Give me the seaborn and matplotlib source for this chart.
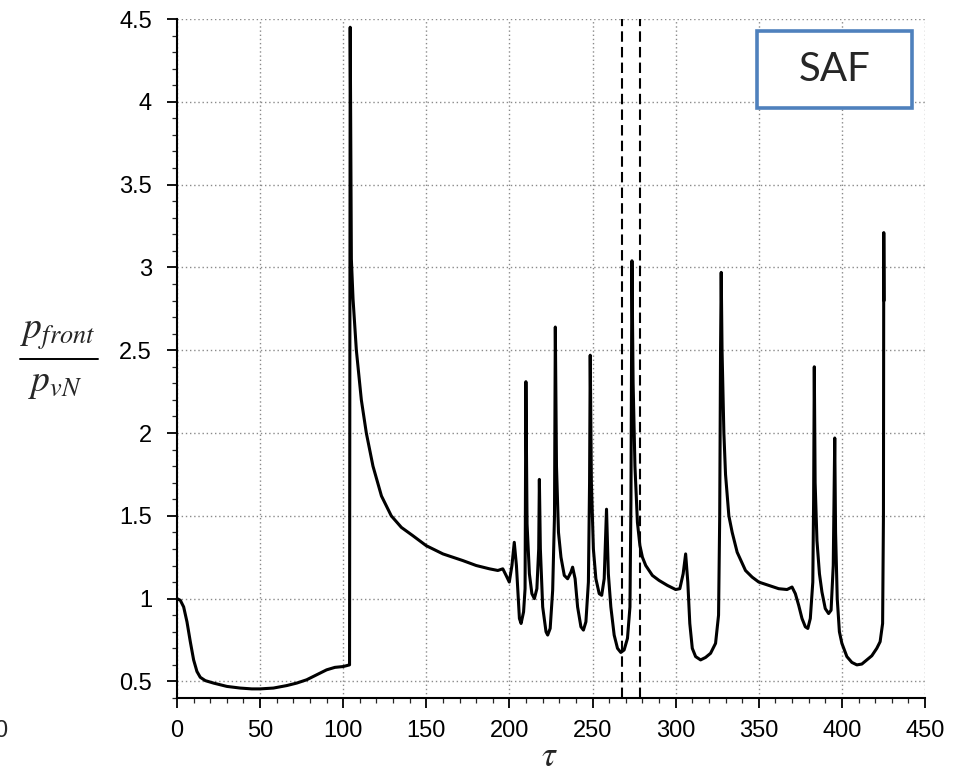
import matplotlib
matplotlib.use("Agg")
import matplotlib.pyplot as plt
from matplotlib.patches import Rectangle
from matplotlib.lines import Line2D
from matplotlib.ticker import MultipleLocator
import seaborn as sns
import pandas as pd

# ---------------- data ----------------
tau = [0, 2, 4, 6, 8, 10, 12, 14, 17, 22, 30, 38, 45, 50, 58, 66, 72, 78, 84, 90, 95, 100, 103.8,
       104.2, 104.9, 105.9, 107.9, 110.9, 113.9, 117.9, 123, 128.9, 135, 141.9, 149.9, 160, 171.9,
       180, 188, 193, 196, 198, 199.9, 201.5, 202.9, 204.2, 206, 207, 208.5, 209.4, 209.9, 210.6,
       212, 213.5, 215, 216.5, 217.6, 218, 218.6, 220, 222, 223, 224.5, 226, 227.1, 227.6, 228.3,
       229.5, 231, 233, 235, 237, 238, 239.5, 241, 243, 244.5, 246, 247.5, 248.2, 248.6, 249.3,
       250.5, 252, 254, 255.5, 257, 258.4, 259.5, 261, 263, 265, 267, 269, 271, 272.5, 273.1,
       273.7, 274.4, 275.5, 277, 278.5, 280, 282, 286, 290, 295, 300, 302.5, 304.5, 306, 307.3,
       308.5, 310, 312, 315, 318, 321, 324, 325.8, 326.5, 327.0, 327.4, 327.9, 329, 330, 332, 334,
       337, 342, 346, 350, 356, 362, 367, 370, 372, 374, 376, 378, 379.5, 381, 382.5, 383.0,
       383.4, 383.9, 385, 386.5, 388, 390, 392, 393.5, 394.8, 395.3, 395.7, 396.2, 397.2, 398.5,
       400, 403, 406, 409, 412, 415, 418, 421, 423, 424.5, 425.0, 425.2, 425.4]
p_ratio = [1.00, 0.99, 0.95, 0.86, 0.74, 0.63, 0.56, 0.525, 0.505, 0.49, 0.47, 0.46, 0.455, 0.455,
           0.46, 0.475, 0.49, 0.51, 0.54, 0.57, 0.585, 0.59, 0.60,
           4.45, 3.05, 2.81, 2.5, 2.2, 2.0, 1.8, 1.62, 1.5, 1.43, 1.38, 1.32, 1.27, 1.23,
           1.20, 1.18, 1.17, 1.18, 1.14, 1.10, 1.2, 1.34, 1.2, 0.88, 0.85, 0.92, 1.06, 2.31,
           1.45, 1.15, 1.03, 1.00, 1.06, 1.3, 1.72, 1.3, 0.95, 0.80, 0.78, 0.82, 1.05, 1.5, 2.64,
           1.8, 1.4, 1.25, 1.14, 1.12, 1.16, 1.19, 1.12, 0.95, 0.83, 0.81, 0.86, 1.1, 1.7, 2.47,
           1.7, 1.3, 1.12, 1.03, 1.02, 1.12, 1.54, 1.15, 0.95, 0.78, 0.70, 0.675, 0.69, 0.76, 0.95,
           1.6, 3.04, 2.3, 1.8, 1.46, 1.32, 1.25, 1.2, 1.14, 1.11, 1.08, 1.055, 1.06, 1.15, 1.27,
           1.1, 0.85, 0.70, 0.65, 0.63, 0.645, 0.67, 0.73, 0.9, 1.5, 2.5, 2.97, 2.5, 2.0, 1.75, 1.5,
           1.4, 1.28, 1.17, 1.13, 1.10, 1.08, 1.06, 1.055, 1.07, 1.03, 0.96, 0.88, 0.83, 0.82, 0.88,
           1.1, 1.6, 2.40, 1.7, 1.35, 1.15, 1.04, 0.94, 0.91, 0.93, 1.2, 1.6, 1.97, 1.4, 1.0, 0.8,
           0.73, 0.65, 0.615, 0.60, 0.605, 0.63, 0.655, 0.70, 0.74, 0.85, 1.5, 3.21, 2.8]
marker_tau = [268.0, 278.6]
x_ticks = [0, 50, 100, 150, 200, 250, 300, 350, 400, 450]
y_ticks = [0.5, 1, 1.5, 2, 2.5, 3, 3.5, 4, 4.5]
y_tick_labels = ["0.5", "1", "1.5", "2", "2.5", "3", "3.5", "4", "4.5"]
box_label = "SAF"

# ---------------- style ----------------
sns.set_style("ticks")
plt.rcParams["font.family"] = ["Liberation Sans", "DejaVu Sans"]
plt.rcParams["mathtext.fontset"] = "stix"

fig = plt.figure(figsize=(9.58, 7.74), dpi=100)
ax = fig.add_axes([177 / 958, 76 / 774, (925 - 177) / 958, (698 - 19) / 774])

df = pd.DataFrame({"tau": tau, "p": p_ratio})
sns.lineplot(data=df, x="tau", y="p", ax=ax, color="black", lw=2.2,
             estimator=None, sort=False, legend=False)

for t in marker_tau:
    ax.axvline(t, color="black", lw=1.5, ls=(0, (5, 2.5)), zorder=3)

ax.set_xlim(0, 450)
ax.set_ylim(0.4, 4.5)
ax.set_xticks(x_ticks)
ax.set_yticks(y_ticks)
ax.set_yticklabels(y_tick_labels)
ax.xaxis.set_minor_locator(MultipleLocator(10))
ax.yaxis.set_minor_locator(MultipleLocator(0.1))
ax.tick_params(axis="both", which="major", direction="out", length=7, width=1.3,
               labelsize=17, colors="black")
ax.tick_params(axis="both", which="minor", direction="out", length=3.5, width=0.9)
ax.tick_params(axis="y", which="major", pad=11)
ax.tick_params(axis="x", which="major", pad=9)

ax.grid(True, which="major", color="#8a8a8a", lw=1.0, ls=(0, (1, 2)))
ax.set_axisbelow(True)
sns.despine(ax=ax, top=True, right=True)
for s in ("left", "bottom"):
    ax.spines[s].set_linewidth(1.5)
    ax.spines[s].set_color("black")
ax.set_xlabel("")
ax.set_ylabel("")

# tau label
fig.text(549 / 958, 1 - 756 / 774, r"$\tau$", fontsize=25, ha="center", va="center")

# y label as a fraction
fig.text(58 / 958, 1 - 334 / 774, r"$p_{front}$", fontsize=27, ha="center", va="center")
fig.text(55 / 958, 1 - 383 / 774, r"$p_{vN}$", fontsize=27, ha="center", va="center")
fig.add_artist(Line2D([20 / 958, 98 / 958], [1 - 359 / 774, 1 - 359 / 774],
                      transform=fig.transFigure, color="black", lw=1.4))

# stray label at left edge (partly cut in the reference too)
fig.text(-6 / 958, 1 - 731 / 774, "0", fontsize=17, ha="left", va="center")

# SAF box
fig.add_artist(Rectangle((757 / 958, 1 - 108 / 774), 155 / 958, 77 / 774,
                         transform=fig.transFigure, facecolor="white",
                         edgecolor="#4F81BD", lw=2.6, zorder=5))
fig.text(834.5 / 958, 1 - 69.5 / 774, box_label, fontsize=29, ha="center", va="center",
         family=["Lato", "DejaVu Sans"], zorder=6)

fig.savefig("out.png", dpi=100)
